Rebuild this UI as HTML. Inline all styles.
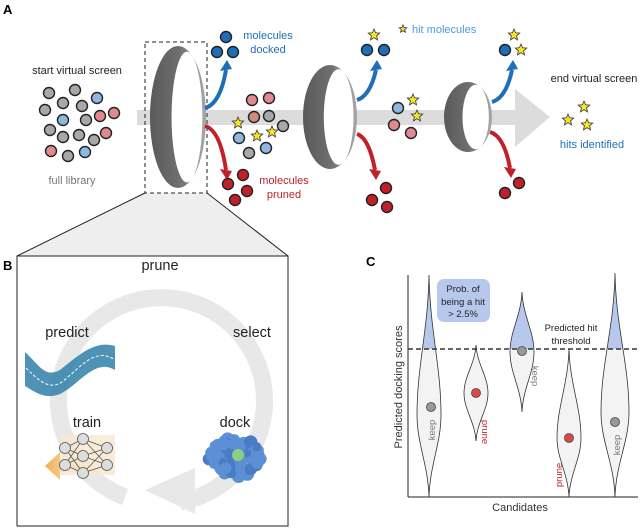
<!DOCTYPE html>
<html><head><meta charset="utf-8"><style>
html,body{margin:0;padding:0;background:#fff}
svg{display:block;font-family:"Liberation Sans",sans-serif}
</style></head><body>
<svg id="s" width="640" height="528" viewBox="0 0 640 528" xmlns="http://www.w3.org/2000/svg">
<defs>
<linearGradient id="rg" x1="0" x2="1"><stop offset="0" stop-color="#5a5a5a"/><stop offset="0.5" stop-color="#6e6e6e"/><stop offset="1" stop-color="#a8a8a8"/></linearGradient>
<clipPath id="top"><rect x="400" y="260" width="240" height="89"/></clipPath>
<linearGradient id="tg" x1="0" x2="1"><stop offset="0" stop-color="#f0b050"/><stop offset="1" stop-color="#f8e0c0" stop-opacity="0"/></linearGradient>
</defs>
<text x="3" y="14" font-size="13" font-weight="bold">A</text>
<polygon points="137,110 515,110 515,89 550,117 515,147 515,125 137,125" fill="#dcdcdc"/>
<polygon points="145,193 207,193 288,256 17,256" fill="#eeeeee"/>
<line x1="145" y1="193" x2="17" y2="256" stroke="#222" stroke-width="1"/>
<line x1="207" y1="193" x2="288" y2="256" stroke="#222" stroke-width="1"/>
<rect x="145" y="42" width="62" height="151" fill="none" stroke="#222" stroke-dasharray="4,3" stroke-width="1"/>
<g id="rings"></g>
<text x="77" y="74" font-size="11" text-anchor="middle" fill="#222">start virtual screen</text>
<text x="72" y="184" font-size="11" text-anchor="middle" fill="#777">full library</text>
<text x="268" y="39" font-size="11" text-anchor="middle" fill="#1f6fb8">molecules</text>
<text x="268" y="53" font-size="11" text-anchor="middle" fill="#1f6fb8">docked</text>
<text x="284" y="184" font-size="11" text-anchor="middle" fill="#c0202a">molecules</text>
<text x="284" y="198" font-size="11" text-anchor="middle" fill="#c0202a">pruned</text>
<text x="412" y="33" font-size="11" fill="#4a9be0">hit molecules</text>
<text x="594" y="82" font-size="11" text-anchor="middle" fill="#222">end virtual screen</text>
<text x="592" y="148" font-size="11" text-anchor="middle" fill="#1f6fb8">hits identified</text>
<g id="arrows" fill="none" stroke-width="4"></g>
<g id="mols" stroke="#222" stroke-width="1.4"></g>
<text x="3" y="270" font-size="13" font-weight="bold">B</text>
<rect x="17" y="256" width="271" height="270" fill="#fff" stroke="#222" stroke-width="1"/>
<path d="M 125 497 A 103 103 0 1 1 180 502" fill="none" stroke="#e8e8e8" stroke-width="17"/>
<polygon points="145,490 195,468 195,514" fill="#e8e8e8"/>
<text x="160" y="270" font-size="14.5" text-anchor="middle" fill="#222">prune</text>
<text x="67" y="337" font-size="14.5" text-anchor="middle" fill="#222">predict</text>
<text x="252" y="337" font-size="14.5" text-anchor="middle" fill="#222">select</text>
<text x="87" y="427" font-size="14.5" text-anchor="middle" fill="#222">train</text>
<text x="235" y="427" font-size="14.5" text-anchor="middle" fill="#222">dock</text>
<path d="M25 352 C40 366 45 378 60 370 C80 354 95 340 115 346 L115 370 C95 358 80 384 60 394 C45 400 35 392 25 386 Z" fill="#2f7fa8" opacity="0.85"/>
<path d="M26 368 C40 382 50 390 62 382 C80 368 95 346 115 360" fill="none" stroke="#fff" stroke-width="1" stroke-dasharray="3,2"/>
<polygon points="45,466 60,452 60,460 120,460 120,472 60,472 60,480" fill="url(#tg)"/>
<rect x="60" y="435" width="55" height="40" fill="#f8e8d0" opacity="0.8"/>
<g id="net" stroke="#555" stroke-width="0.8"></g>
<g id="prot"></g>
<text x="366" y="266" font-size="13" font-weight="bold">C</text>
<g id="viol"></g>
<line x1="408" y1="275" x2="408" y2="497" stroke="#222" stroke-width="1"/>
<line x1="408" y1="497" x2="638" y2="497" stroke="#222" stroke-width="1"/>
<line x1="408" y1="349" x2="638" y2="349" stroke="#333" stroke-width="1.5" stroke-dasharray="5,3"/>
<text x="520" y="511" font-size="11" text-anchor="middle" fill="#333">Candidates</text>
<text transform="translate(402,387) rotate(-90)" font-size="11" text-anchor="middle" fill="#333">Predicted docking scores</text>
<rect x="437" y="279" width="53" height="43" rx="7" fill="#b8c8ec"/>
<text x="463" y="292" font-size="9.5" text-anchor="middle" fill="#222">Prob. of</text>
<text x="463" y="305" font-size="9.5" text-anchor="middle" fill="#222">being a hit</text>
<text x="463" y="317" font-size="9.5" text-anchor="middle" fill="#222">&gt; 2.5%</text>
<text x="571" y="331" font-size="9.5" text-anchor="middle" fill="#222">Predicted hit</text>
<text x="571" y="344" font-size="9.5" text-anchor="middle" fill="#222">threshold</text>
<text transform="translate(435,430) rotate(-90)" font-size="9.5" text-anchor="middle" fill="#777">keep</text>
<text transform="translate(482,432) rotate(90)" font-size="9.5" text-anchor="middle" fill="#c0202a">prune</text>
<text transform="translate(532,376) rotate(90)" font-size="9.5" text-anchor="middle" fill="#777">keep</text>
<text transform="translate(562,475) rotate(-90)" font-size="9.5" text-anchor="middle" fill="#c0202a">prune</text>
<text transform="translate(620,445) rotate(-90)" font-size="9.5" text-anchor="middle" fill="#777">keep</text>
<g id="dots" stroke="#444" stroke-width="0.8"></g>
</svg>
<script>
const NS="http://www.w3.org/2000/svg";
function el(p,t,a){const e=document.createElementNS(NS,t);for(const k in a)e.setAttribute(k,a[k]);document.getElementById(p).appendChild(e);return e;}
[[178,117,28,71],[330,117,27,52],[468,117,24,35]].forEach(([cx,cy,rx,ry])=>{
 el("rings","ellipse",{cx:cx,cy:cy,rx:rx,ry:ry,fill:"url(#rg)"});
 el("rings","ellipse",{cx:cx+rx*0.32,cy:cy,rx:rx*0.55,ry:ry*0.92,fill:"#fff"});
});
function arr(x1,y1,x2,y2,c,up){
 const s=up?-1:1;
 el("arrows","path",{d:`M${x1} ${y1} Q ${x2-6} ${y1+s*4} ${x2} ${y2-s*8}`,stroke:c});
 el("arrows","polygon",{points:`${x2-6},${y2-s*9} ${x2+6},${y2-s*7} ${x2+1},${y2+s*2}`,fill:c,stroke:"none"});
}
arr(205,108,226,62,"#1f6fb8",1);arr(205,126,226,178,"#c0202a",0);
arr(357,100,376,62,"#1f6fb8",1);arr(357,134,375,178,"#c0202a",0);
arr(492,102,512,62,"#1f6fb8",1);arr(490,132,510,176,"#c0202a",0);
const C={g:"#a8a8a8",b:"#8fb8e0",p:"#e08a90",B:"#1f6fb8",R:"#c0202a",d:"#d08a80"};
function m(x,y,c,r){el("mols","circle",{cx:x,cy:y,r:r||5.5,fill:C[c]});}
function star(x,y,r,p){r=r||6;let pts=[];for(let i=0;i<10;i++){const a=-Math.PI/2+i*Math.PI/5,rr=i%2?r*0.45:r;pts.push((x+rr*Math.cos(a)).toFixed(1)+","+(y+rr*Math.sin(a)).toFixed(1));}el(p||"mols","polygon",{points:pts.join(" "),fill:"#f5e625",stroke:"#333","stroke-width":0.8});}
[[49,93,"g"],[75,90,"g"],[97,98,"b"],[45,110,"g"],[63,103,"g"],[82,106,"g"],[100,116,"p"],[114,113,"p"],[63,120,"b"],[86,120,"g"],[50,130,"g"],[63,137,"g"],[79,135,"g"],[94,140,"g"],[106,133,"p"],[51,151,"p"],[68,156,"g"],[85,152,"b"],
[226,37,"B"],[217,52,"B"],[233,52,"B"],[243,175,"R"],[228,184,"R"],[247,191,"R"],[235,200,"R"],
[252,100,"p"],[269,98,"p"],[254,117,"d"],[269,116,"g"],[283,126,"g"],[239,138,"b"],[266,148,"b"],[249,153,"g"],
[367,50,"B"],[384,50,"B"],[386,188,"R"],[372,200,"R"],[387,207,"R"],[398,108,"b"],[394,125,"p"],[411,133,"p"],
[505,50,"B"],[519,183,"R"],[505,193,"R"]].forEach(a=>m(...a));
[[238,123],[257,136],[272,132],[374,35],[413,100],[417,116],[514,35],[521,50],[584,107],[568,120],[587,125]].forEach(a=>star(...a));
star(403,29,4);
[[160,282,"g"],[145,291,"g"],[172,291,"g"],[138,304,"g"],[175,302,"g"],[148,318,"g"],[252,352,"g"],[238,362,"g"],[265,366,"g"],[240,382,"g"]].forEach(a=>m(...a));
m(160,302,"R");m(168,318,"R");m(252,368,"B");m(261,386,"B");
const L=[[[65,448],[65,465]],[[83,439],[83,456],[83,473]],[[107,448],[107,465]]];
for(let i=0;i<2;i++)L[i].forEach(a=>L[i+1].forEach(b=>el("net","line",{x1:a[0],y1:a[1],x2:b[0],y2:b[1]})));
L.flat().forEach(p=>el("net","circle",{cx:p[0],cy:p[1],r:5.5,fill:"#ddd"}));
let seed=3;function rnd(){seed=(seed*9301+49297)%233280;return seed/233280;}
for(let i=0;i<70;i++){const a=rnd()*6.28,r=Math.sqrt(rnd())*1;el("prot","circle",{cx:235+Math.cos(a)*r*27,cy:457+Math.sin(a)*r*20,r:4+rnd()*3,fill:i%3?"#5b8fd6":"#4a7cc4"});}
el("prot","circle",{cx:238,cy:455,r:6,fill:"#8ccf80"});
function vio(cx,y1,y2,ym,w,blue){
 const h1=ym-y1,h2=y2-ym;
 const d=`M${cx} ${y1} C${cx+1} ${y1+h1*0.4} ${cx+w} ${ym-h1*0.35} ${cx+w} ${ym} C${cx+w} ${ym+h2*0.35} ${cx+1} ${y2-h2*0.4} ${cx} ${y2} C${cx-1} ${y2-h2*0.4} ${cx-w} ${ym+h2*0.35} ${cx-w} ${ym} C${cx-w} ${ym-h1*0.35} ${cx-1} ${y1+h1*0.4} ${cx} ${y1}Z`;
 el("viol","path",{d:d,fill:"#f3f3f3"});
 if(blue)el("viol","path",{d:d,fill:"#b8c8ec","clip-path":"url(#top)"});
 el("viol","path",{d:d,fill:"none",stroke:"#333","stroke-width":0.8});
}
vio(429,275,497,415,12,1);vio(476,345,441,393,12,0);vio(522,292,412,352,12,1);vio(569,349,497,438,12,0);vio(615,273,497,412,14,1);
[[431,407,"#999"],[476,393,"#d84a4a"],[522,351,"#999"],[569,438,"#d84a4a"],[615,422,"#999"]].forEach(([x,y,c])=>el("dots","circle",{cx:x,cy:y,r:4.5,fill:c}));
</script>
</body></html>
